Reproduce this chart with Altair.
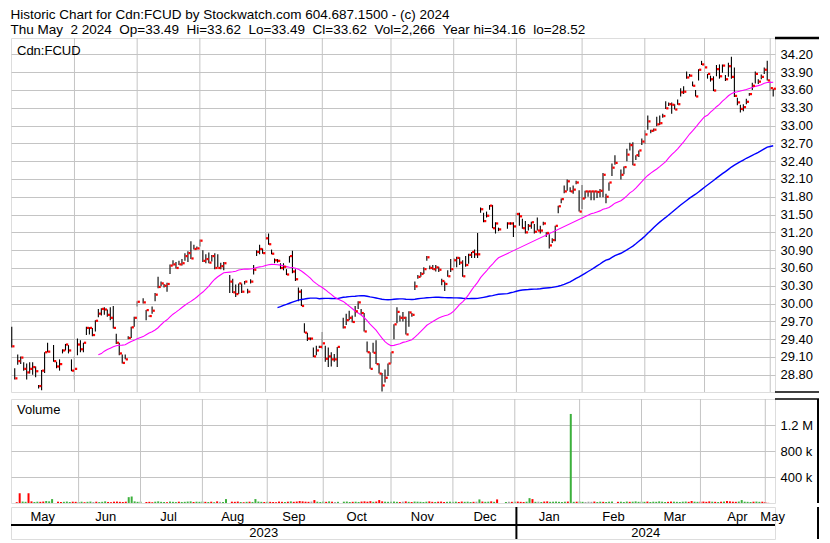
import altair as alt
import pandas as pd

# ---------------- data ----------------
# daily bars per month: (high, low, close); None = no trade that day
may23 = [(29.61, 29.26, 29.28), (28.91, 28.72, 28.74), (29.14, 28.97, 29.03), (29.11, 28.98, 29.09),
         (29.01, 28.87, 28.90), (28.99, 28.72, 28.84), (29.01, 28.82, 28.90), (29.01, 28.80, 28.93),
         (28.94, 28.76, 28.86), (28.63, 28.57, 28.61), (28.88, 28.54, 28.87), (29.18, 28.83, 29.18),
         (29.34, 29.18, 29.19), None, (29.30, 29.02, 29.03), (29.02, 28.91, 28.94),
         (29.06, 28.87, 28.98), (29.23, 29.16, 29.21), (29.32, 29.21, 29.31), (29.30, 29.16, 29.21),
         (29.06, 28.86, 28.87)]
jun23 = [(29.11, 28.72, 28.90), (29.41, 29.13, 29.31), (29.38, 29.18, 29.23), (29.34, 29.18, 29.34),
         (29.61, 29.47, 29.59), (29.60, 29.48, 29.59), (29.59, 29.45, 29.47), (29.72, 29.53, 29.71),
         (29.91, 29.77, 29.83), (29.92, 29.80, 29.91), (29.94, 29.81, 29.90), (29.90, 29.78, 29.81),
         (29.94, 29.72, 29.76), (29.96, 29.58, 29.59), (29.49, 29.32, 29.34), (29.34, 29.13, 29.16),
         (29.14, 28.99, 29.00), (29.14, 29.06, 29.06), (29.45, 29.40, 29.42), (29.61, 29.42, 29.60),
         (29.78, 29.61, 29.76)]
jul23 = [(30.04, 29.95, 30.03), None, (30.09, 30.00, 30.02), (29.89, 29.72, 29.89),
         (29.80, 29.78, 29.79), (29.95, 29.83, 29.88), (30.18, 30.04, 30.15), (30.45, 30.26, 30.28),
         (30.37, 30.29, 30.34), (30.33, 30.27, 30.30), (30.35, 30.20, 30.33), (30.66, 30.50, 30.64),
         (30.73, 30.64, 30.66), (30.70, 30.59, 30.60), (30.72, 30.65, 30.66), (30.75, 30.64, 30.68),
         (30.85, 30.72, 30.80), (30.88, 30.70, 30.85), (31.05, 30.75, 30.76), (30.99, 30.91, 30.92),
         (30.96, 30.91, 30.93)]
aug23 = [(31.08, 30.96, 31.06), (30.90, 30.70, 30.72), (30.83, 30.68, 30.75), (30.86, 30.68, 30.69),
         (30.82, 30.71, 30.80), (30.85, 30.58, 30.60), (30.83, 30.61, 30.60), (30.69, 30.58, 30.63),
         (30.70, 30.56, 30.68), None, (30.48, 30.18, 30.37), (30.42, 30.18, 30.19),
         (30.32, 30.11, 30.16), (30.34, 30.16, 30.34), (30.34, 30.18, 30.20), (30.38, 30.32, 30.37),
         (30.25, 30.17, 30.20), (30.41, 30.34, 30.37), (30.65, 30.49, 30.57), (30.90, 30.80, 30.87),
         (30.99, 30.83, 30.92), (30.93, 30.84, 30.85)]
sep23 = [(31.18, 31.08, 31.10), (31.18, 30.99, 31.00), (30.91, 30.83, 30.84), (30.76, 30.68, 30.73),
         (30.75, 30.69, 30.72), (30.68, 30.58, 30.60), (30.68, 30.56, 30.62), (30.58, 30.48, 30.49),
         (30.80, 30.69, 30.80), (30.89, 30.51, 30.54), (30.58, 30.38, 30.41), (30.27, 30.04, 30.20),
         (30.24, 29.96, 29.96), (29.67, 29.51, 29.51), (29.51, 29.37, 29.41), (29.43, 29.38, 29.41),
         (29.26, 29.10, 29.11), (29.29, 29.13, 29.21), (29.29, 29.25, 29.27)]
oct23 = [(29.52, 29.23, 29.33), (29.29, 29.02, 29.07), (29.26, 28.93, 29.11), (29.18, 28.94, 29.06),
         (29.15, 29.02, 29.06), (29.27, 28.93, 29.27), None, (29.76, 29.58, 29.60),
         (29.83, 29.64, 29.72), (29.88, 29.72, 29.76), (29.80, 29.68, 29.69), (29.96, 29.78, 29.87),
         (30.04, 29.91, 30.02), (29.91, 29.81, 29.84), (29.84, 29.53, 29.53), (29.36, 29.18, 29.18),
         (29.18, 28.90, 28.90), (29.34, 29.17, 29.17), (29.38, 28.98, 28.98), (28.99, 28.82, 28.82),
         (28.83, 28.52, 28.62), (28.89, 28.67, 28.75), (28.99, 28.78, 28.99)]
nov23 = [(29.18, 28.99, 29.18), (29.65, 29.40, 29.65), (29.94, 29.67, 29.86), (29.80, 29.70, 29.76),
         (29.86, 29.70, 29.76), (29.78, 29.48, 29.48), (29.87, 29.61, 29.85), (29.84, 29.78, 29.81),
         (30.37, 30.23, 30.29), (30.48, 30.42, 30.45), (30.53, 30.45, 30.50), (30.61, 30.50, 30.58),
         (30.80, 30.72, 30.78), (30.64, 30.58, 30.60), (30.65, 30.57, 30.58), (30.65, 30.54, 30.61),
         (30.62, 30.53, 30.57), (30.42, 30.31, 30.38), (30.37, 30.21, 30.33), (30.56, 30.45, 30.46),
         (30.75, 30.53, 30.58)]
dec23 = [(30.77, 30.61, 30.73), (30.79, 30.61, 30.77), (30.78, 30.65, 30.69), (30.73, 30.45, 30.46),
         (30.80, 30.62, 30.65), (30.84, 30.67, 30.82), (30.87, 30.77, 30.87), (30.91, 30.77, 30.83),
         (31.19, 30.77, 30.83), (31.62, 31.53, 31.59), (31.53, 31.37, 31.39), (31.55, 31.45, 31.48),
         (31.66, 31.58, 31.65), (31.66, 31.27, 31.27), (31.37, 31.18, 31.35), (31.28, 31.22, 31.25),
         None, None, (31.37, 31.26, 31.35), (31.37, 31.33, 31.35), (31.37, 31.12, 31.30)]
jan24 = [(31.53, 31.37, 31.51), (31.53, 31.31, 31.47), (31.43, 31.26, 31.27), (31.39, 31.18, 31.20),
         (31.34, 31.23, 31.31), (31.38, 31.26, 31.37), (31.34, 31.18, 31.21), (31.45, 31.23, 31.23),
         (31.31, 31.18, 31.23), (31.38, 31.32, 31.35), (31.20, 31.12, 31.19), (31.17, 30.93, 30.98),
         (31.10, 31.02, 31.07), (31.31, 31.05, 31.31), (31.65, 31.52, 31.64), (31.77, 31.69, 31.76),
         (31.99, 31.86, 31.89), (32.09, 31.90, 32.06), (31.96, 31.88, 31.89), (31.99, 31.85, 31.92),
         (32.07, 32.01, 32.04), (31.91, 31.55, 31.55)]
feb24 = [(32.00, 31.59, 31.77), (31.90, 31.77, 31.89), (31.90, 31.80, 31.89), (31.90, 31.74, 31.89),
         (31.90, 31.74, 31.89), (31.90, 31.78, 31.88), (31.93, 31.79, 31.90), (32.20, 31.79, 32.17),
         (31.85, 31.69, 31.80), (32.04, 31.90, 32.04), (32.36, 32.15, 32.29), (32.50, 32.34, 32.37),
         None, (32.26, 32.09, 32.17), (32.31, 32.18, 32.30), (32.61, 32.40, 32.51),
         (32.71, 32.58, 32.67), (32.72, 32.33, 32.34), (32.50, 32.42, 32.50), (32.58, 32.47, 32.58),
         (32.78, 32.67, 32.73)]
mar24 = [(32.92, 32.69, 32.85), (33.17, 32.93, 33.07), (32.93, 32.87, 32.91), (32.95, 32.90, 32.93),
         (33.15, 32.99, 33.02), (33.17, 33.01, 33.04), (33.20, 33.13, 33.16), (33.41, 33.28, 33.29),
         (33.39, 33.33, 33.36), (33.39, 33.20, 33.35), (33.36, 33.27, 33.27), (33.44, 33.35, 33.36),
         (33.63, 33.49, 33.56), (33.66, 33.53, 33.57), (33.91, 33.79, 33.81), (33.87, 33.82, 33.84),
         (33.74, 33.66, 33.67), (33.60, 33.49, 33.49), (33.95, 33.76, 33.94), (34.09, 34.02, 34.03)]
apr24 = [(34.03, 33.98, 33.98), (33.87, 33.79, 33.87), (33.84, 33.74, 33.78), (33.83, 33.58, 33.59),
         (34.02, 33.83, 33.95), (34.03, 33.79, 33.83), (34.03, 33.89, 34.01), (33.85, 33.75, 33.78),
         (34.06, 33.82, 34.00), (34.16, 33.79, 33.82), (33.98, 33.48, 33.50), (33.47, 33.34, 33.39),
         (33.35, 33.22, 33.28), (33.36, 33.24, 33.31), (33.45, 33.36, 33.40), (33.55, 33.50, 33.53),
         (33.72, 33.60, 33.67), (33.91, 33.71, 33.87), (33.78, 33.70, 33.74), (33.86, 33.78, 33.82),
         (33.98, 33.87, 33.94), (34.09, 33.76, 33.76)]
may24 = [(33.74, 33.58, 33.63), (33.62, 33.49, 33.62)]

# daily volume per month (shares)
vol_may23 = [12000, 150000, 22000, 18000, 150000, 25000, 15000, 20000, 18000, 22000, 30000,
             25000, 60000, 0, 20000, 15000, 18000, 22000, 15000, 20000, 18000]
vol_jun23 = [15000, 20000, 12000, 18000, 22000, 15000, 20000, 14000, 18000, 25000, 16000,
             12000, 20000, 22000, 18000, 15000, 20000, 90000, 100000, 25000, 18000]
vol_jul23 = [20000, 0, 15000, 18000, 12000, 20000, 25000, 18000, 15000, 12000, 22000,
             18000, 14000, 20000, 16000, 18000, 22000, 25000, 15000, 20000, 18000]
vol_aug23 = [22000, 18000, 15000, 20000, 12000, 25000, 18000, 15000, 60000, 0, 20000,
             18000, 22000, 15000, 12000, 18000, 20000, 16000, 60000, 22000, 18000, 15000]
vol_sep23 = [20000, 18000, 15000, 12000, 22000, 18000, 15000, 20000, 25000, 18000,
             22000, 30000, 25000, 20000, 18000, 22000, 45000, 20000, 15000]
vol_oct23 = [22000, 18000, 25000, 20000, 15000, 18000, 0, 20000, 22000, 15000, 18000, 20000,
             16000, 22000, 25000, 20000, 28000, 18000, 22000, 45000, 25000, 20000, 18000]
vol_nov23 = [20000, 22000, 18000, 15000, 20000, 25000, 18000, 15000, 22000, 20000, 18000,
             15000, 20000, 25000, 18000, 16000, 20000, 22000, 15000, 18000, 20000]
vol_dec23 = [18000, 20000, 15000, 22000, 18000, 20000, 15000, 18000, 20000, 55000, 22000,
             18000, 20000, 25000, 18000, 55000, 0, 0, 15000, 20000, 18000]
vol_jan24 = [20000, 22000, 18000, 15000, 20000, 75000, 60000, 18000, 20000, 15000, 22000,
             25000, 18000, 20000, 22000, 18000, 15000, 20000, 22000, 1370000, 18000, 20000]
vol_feb24 = [22000, 18000, 15000, 20000, 18000, 22000, 15000, 20000, 18000, 15000, 20000,
             22000, 0, 18000, 20000, 15000, 22000, 18000, 20000, 25000, 18000]
vol_mar24 = [20000, 18000, 22000, 15000, 20000, 18000, 25000, 20000, 15000, 18000,
             22000, 20000, 18000, 15000, 20000, 22000, 18000, 30000, 20000, 18000]
vol_apr24 = [20000, 22000, 18000, 25000, 20000, 18000, 15000, 20000, 22000, 30000, 25000,
             20000, 18000, 22000, 45000, 20000, 18000, 15000, 20000, 22000, 18000, 20000]
vol_may24 = [15000, 2266]

month_labels = ["May", "Jun", "Jul", "Aug", "Sep", "Oct", "Nov", "Dec",
                "Jan", "Feb", "Mar", "Apr", "May"]
year_labels = ["2023", "2024"]
price_ticks = [28.80, 29.10, 29.40, 29.70, 30.00, 30.30, 30.60, 30.90, 31.20, 31.50,
               31.80, 32.10, 32.40, 32.70, 33.00, 33.30, 33.60, 33.90, 34.20]
volume_ticks = [400000, 800000, 1200000]

header_1 = "Historic Chart for Cdn:FCUD by Stockwatch.com 604.687.1500 - (c) 2024"
header_2 = "Thu May\u00a0\u00a02 2024\u00a0\u00a0Op=33.49\u00a0\u00a0Hi=33.62\u00a0\u00a0Lo=33.49\u00a0\u00a0Cl=33.62\u00a0\u00a0Vol=2,266\u00a0\u00a0Year hi=34.16\u00a0\u00a0lo=28.52"

# ---------------- build tables ----------------
month_bars = [may23, jun23, jul23, aug23, sep23, oct23, nov23, dec23, jan24, feb24, mar24, apr24, may24]
month_vols = [vol_may23, vol_jun23, vol_jul23, vol_aug23, vol_sep23, vol_oct23, vol_nov23,
              vol_dec23, vol_jan24, vol_feb24, vol_mar24, vol_apr24, vol_may24]

rows, starts = [], []
k = 0
for bars, vols in zip(month_bars, month_vols):
    starts.append(k)
    for b, v in zip(bars, vols):
        if b is None:
            rows.append({"k": k, "high": None, "low": None, "close": None, "vol": v})
        else:
            rows.append({"k": k, "high": b[0], "low": b[1], "close": b[2], "vol": v})
        k += 1
n_days = k
df = pd.DataFrame(rows)
prev = df["close"].ffill().shift(1)
df["dir"] = "down"
df.loc[df["close"] > prev, "dir"] = "up"
df.loc[df["close"] == prev, "dir"] = "flat"
df["ma30"] = df["close"].rolling(30, min_periods=29).mean()
df["ma90"] = df["close"].rolling(90, min_periods=87).mean()

bars_df = df.dropna(subset=["close"])
ma30_df = df.dropna(subset=["ma30", "close"])
ma90_df = df.dropna(subset=["ma90", "close"])

XMIN, XMAX = -0.25, n_days - 0.4
edges = starts + [XMAX]
edges[0] = XMIN
months_df = pd.DataFrame({
    "label": month_labels,
    "pos": [(edges[i] + edges[i + 1]) / 2 for i in range(len(month_labels))],
})
grid_df = pd.DataFrame({"k": starts[1:]})
jan_k = starts[8]
years_df = pd.DataFrame({"label": year_labels,
                         "pos": [(XMIN + jan_k) / 2, (jan_k + XMAX) / 2]})
one = pd.DataFrame({"a": [0]})

# ---------------- chart ----------------
FONT = "Liberation Sans"
W, HP, HV, HF = 764, 354, 104, 32
RX = 808          # right edge of the label column
GRID = "#c4c4c4"

xs = alt.Scale(domain=[XMIN, XMAX], nice=False, zero=False)
ys = alt.Scale(domain=[28.51, 34.475], nice=False, zero=False)
vs = alt.Scale(domain=[0, 1600000], nice=False, zero=False)


def X(field="k"):
    return alt.X(f"{field}:Q", scale=xs, axis=None)


price_axis = alt.Axis(orient="right", values=price_ticks, format=".2f", grid=True,
                      gridColor=GRID, ticks=False, domain=False, labelPadding=5,
                      title=None, labelFontSize=13, labelColor="black", labelFont=FONT)


def PY(field):
    return alt.Y(f"{field}:Q", scale=ys, axis=price_axis, title=None)


vgrid = alt.Chart(grid_df).mark_rule(color=GRID, strokeWidth=1).encode(x=X())

hl = alt.Chart(bars_df).mark_rule(color="black", strokeWidth=1.1).encode(
    x=X(), y=PY("low"), y2="high:Q")
cl = alt.Chart(bars_df).mark_square(color="#ff0000", filled=True, size=5, opacity=1,
                                     xOffset=1.6).encode(x=X(), y=PY("close"))
ma30 = alt.Chart(ma30_df).mark_line(color="#ff00ff", strokeWidth=1.1).encode(
    x=X(), y=PY("ma30"))
ma90 = alt.Chart(ma90_df).mark_line(color="#0000ff", strokeWidth=1.4).encode(
    x=X(), y=PY("ma90"))
sym = alt.Chart(pd.DataFrame({"t": ["Cdn:FCUD"]})).mark_text(
    align="left", baseline="middle", font=FONT, fontSize=13, color="black").encode(
    x=alt.value(6), y=alt.value(13), text="t:N")
top_ext = alt.Chart(one).mark_rule(color="black", strokeWidth=2.5).encode(
    x=alt.value(W), x2=alt.value(RX), y=alt.value(0))
bot_ext = alt.Chart(one).mark_rule(color="black", strokeWidth=1.5).encode(
    x=alt.value(W), x2=alt.value(RX), y=alt.value(HP))

price = alt.layer(hl, vgrid, ma90, ma30, cl, sym, top_ext, bot_ext).properties(width=W, height=HP)

vol_axis = alt.Axis(orient="right", values=volume_ticks, grid=True, gridColor=GRID,
                    ticks=False, domain=False, labelPadding=5, title=None,
                    labelFontSize=13, labelColor="black", labelFont=FONT,
                    labelExpr="datum.value >= 1000000 ? format(datum.value/1000000, '.1f') + ' M' : format(datum.value/1000, 'd') + ' k'")
vbars = alt.Chart(df).mark_bar(size=2).encode(
    x=X(), y=alt.Y("vol:Q", scale=vs, axis=vol_axis),
    color=alt.Color("dir:N", scale=alt.Scale(domain=["up", "down", "flat"],
                                             range=["#3cb03c", "#ff0000", "#a0a0a0"]),
                    legend=None))
vlabel = alt.Chart(pd.DataFrame({"t": ["Volume"]})).mark_text(
    align="left", baseline="middle", font=FONT, fontSize=13, color="black").encode(
    x=alt.value(6), y=alt.value(11), text="t:N")
vtop_ext = alt.Chart(one).mark_rule(color="black", strokeWidth=1.5).encode(
    x=alt.value(W), x2=alt.value(RX), y=alt.value(0))
vright = alt.Chart(one).mark_rule(color="black", strokeWidth=2).encode(
    x=alt.value(RX - 1), y=alt.value(0), y2=alt.value(HV))
volume = alt.layer(vbars, vgrid, vlabel, vtop_ext, vright).properties(width=W, height=HV)

mtext = alt.Chart(months_df).mark_text(font=FONT, fontSize=13, color="black",
                                       baseline="middle").encode(
    x=alt.X("pos:Q", scale=xs, axis=None), y=alt.value(9.5), text="label:N")
ytext = alt.Chart(years_df).mark_text(font=FONT, fontSize=13, color="black",
                                      baseline="middle").encode(
    x=alt.X("pos:Q", scale=xs, axis=None), y=alt.value(25.5), text="label:N")
mid = alt.Chart(one).mark_rule(color="black", strokeWidth=2).encode(
    x=alt.value(0), x2=alt.value(W), y=alt.value(18))
ysep = alt.Chart(pd.DataFrame({"k": [jan_k]})).mark_rule(color="black", strokeWidth=2).encode(
    x=X(), y=alt.value(0), y2=alt.value(HF))
fright = alt.Chart(one).mark_rule(color="black", strokeWidth=2).encode(
    x=alt.value(RX - 1), y=alt.value(0), y2=alt.value(HF))
footer = alt.layer(mid, ysep, mtext, ytext, fright).properties(width=W, height=HF)

lower = alt.vconcat(volume, footer, spacing=0)
chart = alt.vconcat(price, lower, spacing=3).properties(
    title=alt.TitleParams(text=[header_1, header_2], anchor="start", font=FONT,
                          fontSize=13.5, fontWeight="normal", color="black",
                          lineHeight=14.5, offset=0, dx=1),
    padding={"left": 1, "top": 0, "right": 0, "bottom": 0},
).configure_view(stroke="black", strokeWidth=2).configure(background="white")

chart.save("out.html", embed_options={"renderer": "svg", "actions": False})
